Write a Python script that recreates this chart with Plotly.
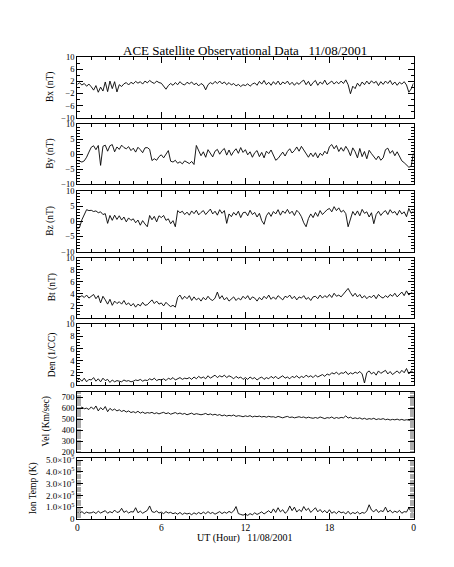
import plotly.graph_objects as go

# ---------------- data (10-minute samples, 0..24 UT) ----------------
bx = [1.0, 1.5, 0.8, 1.3, 0.4, 1.1,
      0.2, -0.9, 0.6, -1.6, 0.1, -1.2,
      1.8, -1.4, 2.1, -0.4, 1.9, -1.5,
      0.9, 0.3, 1.2, 1.6, 0.8, 1.7,
      1.2, 2.0, 1.4, 1.9, 1.1, 2.1,
      1.5, 2.3, 1.7, 1.3, 2.1, 1.6,
      1.4, 0.2, -0.6, 0.6, 1.3, 0.7,
      1.6, 0.9, 1.9, 1.1, 0.8, 1.7,
      1.2, 1.8, 0.9, 1.4, 0.5, 1.3,
      0.8, -0.8, 0.9, 1.6, 1.1, 2.0,
      1.3, 2.1, 1.2, 1.8, 0.9, 1.6,
      0.8, 1.3, 0.5, 1.0, 0.3, 0.9,
      0.6, 1.2, 0.4, 1.1, 1.5, 0.7,
      2.0, 1.1, 2.3, 0.9, 1.7, 0.7,
      1.9, 1.0, 2.1, 0.8, 1.8, 1.2,
      2.1, 0.9, 1.7, 0.7, 1.6, 1.0,
      1.9, 2.4, 0.9, 2.0, 0.5, 1.6,
      2.3, 0.7, 1.8, 1.1, 2.4, 0.9,
      1.5, 2.1, 1.1, 1.9, 1.2, 2.1,
      1.3, 2.5, 0.9, -2.1, 0.4, -0.4,
      1.4, 0.4, 1.8, 0.9, 2.1, 1.1,
      2.2, 1.4, 2.0, 0.6, 1.9, 1.0,
      2.1, 1.3, 2.3, 0.9, 1.8, 0.7,
      1.7, 1.1, 1.9, 0.8, -1.6, -0.5,
      1.4]

by = [-2.0, -2.4, -2.6, -2.2, -1.0, 0.7,
      2.3, 2.8, 1.5, 2.9, -3.7, 2.6,
      3.0, 1.0, 2.8, 3.2, 0.8, 2.4,
      1.6, 3.0, 2.2, 1.8, 2.5, 1.2,
      2.0, 0.7, 2.3, 1.5, 0.5, 2.1,
      2.2, 1.6, -2.1, -1.5, -2.0, -0.8,
      -0.2, -1.2, 0.2, 1.2, -2.3, -2.6,
      -2.0, -3.0, -2.5, -3.2, -2.2, -2.8,
      -3.1, -2.4, -3.4, 2.9, 1.2, -0.5,
      0.8, -1.0, 1.5, 0.2, -0.9, 1.0,
      1.6, 0.0, 1.2, 1.9, -0.3, 1.4,
      -0.4, 0.9, 1.8, 0.3, 2.2, 0.6,
      1.5, -0.2, 0.8, -1.0, 0.5, 1.2,
      -0.8, 0.6, -1.2, 1.0, 0.2, 1.4,
      -0.5, -2.0, -1.4, -0.3, 0.7, -0.6,
      0.9, 1.8, 0.4, 1.2, 2.4, 1.0,
      2.6, 1.4, 0.2, -1.0, 0.4, -0.8,
      0.5, -1.2, 0.3, -0.4, 1.0, 0.1,
      2.5, 3.2, 1.8, 2.9, 0.9, 2.2,
      1.0, 2.6, 1.4, -0.5, 2.1, 0.8,
      -1.2, 1.9, -0.8, 0.9, -1.5, 1.3,
      0.2, -1.0, -1.8, -0.6, -2.0, -1.2,
      1.5, 2.0, 0.3, 1.2, -0.5, 0.8,
      -1.0, -2.2, -2.8, -3.5, -4.3, -4.0,
      0.5]

bz = [-2.5, -2.0, 0.5, 2.0, 3.8, 3.5,
      3.6, 3.2, 3.4, 2.8, 3.1, 2.2,
      2.5, -0.7, 1.9, 0.3, 2.0, 0.6,
      1.8, 0.4, 1.4, -0.2, 1.1, 0.3,
      0.8, -0.5, 0.4, -1.3, 0.2, -0.9,
      -1.8, 1.9, 0.5, 1.6, -0.2, 1.8,
      1.2, 1.9, 0.3, 0.8, -0.8, 0.2,
      -1.8, 3.5, 2.8, 3.3, 2.2, 3.0,
      2.0, 3.4, 2.5, 3.6, 2.1, 2.9,
      3.5, 2.2, 3.0, 4.0, 2.4, 3.3,
      2.0, 3.8, 2.6, 3.5, -0.7, 2.4,
      1.5, 2.9, 2.0, 3.3, 1.2, 2.8,
      3.0, 1.8, 3.6, 2.2, 2.9, 1.4,
      2.6, 0.2, -1.0, 1.8, 2.9, 1.6,
      3.2, 2.4, 3.8, 2.0, 3.4, 2.6,
      3.9, 2.5, 3.3, 1.9, 3.6, 2.8,
      1.5, -0.5, -1.8, 0.9, 2.4, 1.2,
      2.9, 1.6, 3.5, 2.2, 3.0, 3.8,
      4.2, 3.1, 4.8, 3.5, 4.4, 3.0,
      3.6, 2.5, -1.8, 1.2, 3.2, 2.0,
      3.4, 1.8, 3.9, 2.6, 3.1, 1.4,
      2.8, -0.8, 2.2, 3.3, 1.9, 2.9,
      3.5, 2.2, 3.8, 2.7, 3.2, 2.0,
      3.6, 2.4, 3.1, 1.5, 4.2, 2.6,
      3.3]

bt = [3.2, 3.5, 3.7, 3.4, 3.8, 3.3,
      3.6, 3.9, 3.2, 3.7, 2.5, 3.6,
      3.0, 2.3, 3.1, 2.1, 2.8, 2.4,
      2.7, 2.3, 2.9, 2.2, 2.5, 2.0,
      2.4, 1.8, 2.3, 2.0, 2.6, 2.1,
      2.2, 2.6, 3.0, 2.4, 2.8, 2.3,
      2.5, 2.0, 2.6, 2.2, 1.9, 2.1,
      1.8, 3.4, 3.8, 3.1, 3.6, 3.2,
      3.7, 2.9, 3.5, 3.0, 3.3, 2.8,
      3.4, 3.0, 3.6, 3.1, 2.9, 3.3,
      4.3, 3.2, 3.7, 3.0, 3.4, 2.8,
      3.1, 3.5, 2.9, 3.3, 3.0, 3.6,
      3.2, 3.7, 3.0, 3.5, 3.3, 2.8,
      3.4, 3.0, 3.6, 3.2, 3.8, 3.1,
      3.5, 3.1, 3.7, 3.3, 3.0, 3.6,
      3.4, 3.8, 3.2, 3.6, 3.0, 3.5,
      3.3, 3.7, 3.1, 3.4, 2.9, 3.5,
      3.6, 3.2, 3.8, 3.3, 3.7, 3.4,
      3.9, 3.4, 4.1, 3.6, 3.8, 3.5,
      4.0, 4.6, 4.9, 4.2, 3.6, 4.1,
      3.5, 3.9, 3.3, 3.7, 3.2, 3.6,
      3.4, 3.8, 3.2, 3.9, 3.5, 3.3,
      3.7, 3.4, 3.9, 3.6, 4.1, 3.5,
      3.9, 4.3, 3.7, 4.5, 3.8, 4.2,
      4.0]

den = [0.7, 1.0, 0.6, 1.1, 0.5, 0.9,
       0.8, 1.2, 0.6, 1.0, 0.5, 1.1,
       0.7, 0.9, 0.4, 0.8, 0.5, 0.7,
       0.6, 0.5, 0.8, 0.6, 0.7, 0.5,
       0.6, 0.8, 0.7, 0.9, 0.6, 0.8,
       0.7, 1.0, 0.8, 1.1, 0.7, 0.9,
       0.8, 1.0, 0.7, 1.1, 0.9, 1.2,
       0.8, 1.0, 1.2, 0.9, 1.1, 1.0,
       1.2, 0.9, 1.3, 1.0, 1.4, 1.1,
       1.3, 1.0, 1.5, 1.1, 1.4, 1.6,
       1.2, 1.5, 1.3, 1.6, 1.2, 1.5,
       1.3, 1.0, 1.4, 1.1, 1.3, 0.9,
       1.2, 0.9, 1.3, 1.0, 1.2, 0.8,
       1.1, 1.3, 0.9, 1.2, 1.0, 1.4,
       1.1, 1.4, 1.0, 1.3, 1.5, 1.1,
       1.3, 1.0, 1.4, 1.2, 1.5, 1.1,
       1.4, 1.2, 1.6, 1.3, 1.5, 1.2,
       1.6, 1.3, 1.5, 1.7, 1.4, 1.8,
       1.6, 2.0, 1.8, 2.1, 1.7, 2.0,
       1.9, 2.2, 1.7, 2.0, 1.8, 2.1,
       1.9, 2.2, 1.8, 0.3, 2.0, 2.3,
       1.8, 2.1, 1.6, 2.3, 1.9, 2.2,
       2.4, 1.8, 2.2, 1.7, 2.0, 2.3,
       1.9, 2.4, 2.0, 2.7, 1.8, 2.3,
       2.0]

vel = [605, 598, 610, 595, 600, 588,
       612, 590, 620, 575, 605, 585,
       615, 568, 598, 580, 592, 575,
       585, 570, 580, 565, 575, 560,
       568, 558, 572, 555, 565, 552,
       560, 555, 562, 550, 558, 548,
       556, 562, 550, 558, 545, 555,
       560, 548, 556, 545, 552, 540,
       548, 555, 542, 550, 545, 540,
       545, 552, 540, 548, 538, 545,
       535, 542, 530, 538, 528, 535,
       530, 538, 525, 532, 528, 522,
       530, 524, 532, 520, 527, 523,
       528, 520, 525, 518, 526, 520,
       522, 515, 525, 518, 512, 520,
       525, 515, 520, 512, 518, 522,
       515, 520, 510, 518, 512, 508,
       515, 508, 520, 512, 505, 514,
       510, 520, 506, 515, 508, 516,
       512, 530, 510, 518, 505, 512,
       505, 512, 500, 508, 498, 505,
       500, 508, 496, 503, 498, 505,
       495, 500, 492, 498, 494, 500,
       492, 498, 490, 495, 493, 488,
       515]

temp = [55000, 48000, 62000, 45000, 58000, 50000,
        52000, 60000, 46000, 65000, 50000, 58000,
        70000, 48000, 62000, 52000, 75000, 55000,
        60000, 90000, 55000, 68000, 50000, 62000,
        58000, 95000, 52000, 66000, 48000, 60000,
        72000, 110000, 62000, 55000, 68000, 50000,
        58000, 45000, 62000, 50000, 56000, 44000,
        52000, 40000, 55000, 38000, 50000, 42000,
        48000, 36000, 52000, 40000, 55000, 42000,
        58000, 44000, 62000, 46000, 55000, 40000,
        50000, 62000, 45000, 58000, 48000, 64000,
        52000, 68000, 105000, 45000, 38000, 32000,
        40000, 30000, 45000, 35000, 52000, 38000,
        48000, 60000, 42000, 55000, 70000, 50000,
        85000, 55000, 95000, 60000, 78000, 48000,
        65000, 110000, 70000, 100000, 58000, 80000,
        62000, 105000, 72000, 90000, 55000, 75000,
        95000, 60000, 80000, 55000, 72000, 50000,
        78000, 48000, 62000, 45000, 66000, 52000,
        58000, 42000, 65000, 40000, 55000, 45000,
        60000, 42000, 55000, 48000, 68000, 120000,
        75000, 60000, 82000, 55000, 70000, 62000,
        100000, 58000, 74000, 52000, 66000, 55000,
        72000, 48000, 62000, 58000, 95000, 60000,
        60000]

hours = [i / 6 for i in range(len(bx))]

x_tickvals = [0, 6, 12, 18, 24]
x_ticktext = ["0", "6", "12", "18", "0"]

ytitles = ["Bx (nT)", "By (nT)", "Bz (nT)", "Bt (nT)", "Den (1/CC)",
           "Vel (Km/sec)", "Ion Temp (K)"]
series = [bx, by, bz, bt, den, vel, temp]
yranges = [[-10, 10], [-10, 10], [-10, 10], [0, 10], [0, 10], [200, 750], [0, 5.17e5]]
ytickvals = [[-10, -6, -2, 2, 6, 10],
             [-10, -5, 0, 5, 10],
             [-10, -5, 0, 5, 10],
             [0, 2, 4, 6, 8, 10],
             [0, 2, 4, 6, 8, 10],
             [200, 300, 400, 500, 600, 700],
             [0, 1e5, 2e5, 3e5, 4e5, 5e5]]
yticktext = [["\u221210", "\u22126", "\u22122", "2", "6", "10"],
             ["\u221210", "\u22125", "0", "5", "10"],
             ["\u221210", "\u22125", "0", "5", "10"],
             ["0", "2", "4", "6", "8", "10"],
             ["0", "2", "4", "6", "8", "10"],
             ["200", "300", "400", "500", "600", "700"],
             ["0", "1.0\u00d710<sup>5</sup>", "2.0\u00d710<sup>5</sup>",
              "3.0\u00d710<sup>5</sup>", "4.0\u00d710<sup>5</sup>",
              "5.0\u00d710<sup>5</sup>"]]
yminor = [2, 1, 1, 0.5, 0.5, 10, 1e4]
minor_color = ["#000", "#000", "#000", "#000", "#000", "#aaa", "#aaa"]
minor_len = [3, 3, 3, 3, 3, 4, 4]
ytick_size = [8.5, 8.5, 8.5, 8.5, 8.5, 8.5, 9]

# ---------------- layout geometry (pixels) ----------------
W, H = 454, 567
X0, X1 = 68, 408
panels = [(45, 106.5), (113, 174.5), (181, 243), (249, 310.5),
          (317, 378.5), (385.5, 447), (453, 515)]
ytitle_x = [41, 41, 41, 43, 43, 37, 24]

FONT = "Liberation Serif"
fig = go.Figure()
layout = dict(width=W, height=H, margin=dict(l=0, r=0, t=0, b=0),
              paper_bgcolor="white", plot_bgcolor="white", showlegend=False,
              font=dict(family=FONT, size=9, color="black"))
annotations = []

for i, (vals, (top, bot)) in enumerate(zip(series, panels)):
    n = i + 1
    xa = "x" if n == 1 else f"x{n}"
    ya = "y" if n == 1 else f"y{n}"
    fig.add_trace(go.Scatter(x=hours, y=vals, mode="lines",
                             line=dict(color="black", width=0.9),
                             xaxis=xa, yaxis=ya, hoverinfo="skip"))
    xkey = "xaxis" if n == 1 else f"xaxis{n}"
    ykey = "yaxis" if n == 1 else f"yaxis{n}"
    layout[xkey] = dict(domain=[X0 / W, X1 / W], range=[0, 24], anchor=ya,
                        tickmode="array", tickvals=x_tickvals, ticktext=x_ticktext,
                        ticks="inside", ticklen=6, tickcolor="black",
                        minor=dict(dtick=1, ticks="inside", ticklen=3, tickcolor="black"),
                        showline=True, linecolor="black", linewidth=1,
                        mirror="allticks", showgrid=False, zeroline=False,
                        showticklabels=(n == 7), tickfont=dict(size=9.5, family=FONT))
    layout[ykey] = dict(domain=[1 - bot / H, 1 - top / H], range=yranges[i],
                        anchor=xa, tickmode="array", tickvals=ytickvals[i],
                        ticktext=yticktext[i], ticks="inside", ticklen=6,
                        tickcolor="black",
                        minor=dict(dtick=yminor[i], ticks="inside", ticklen=minor_len[i],
                                   tickcolor=minor_color[i], tick0=yranges[i][0]),
                        showline=True, linecolor="black", linewidth=1,
                        mirror="allticks", showgrid=False, zeroline=False,
                        tickfont=dict(size=ytick_size[i], family=FONT))
    annotations.append(dict(text=ytitles[i], x=ytitle_x[i] / W, y=1 - (top + bot) / 2 / H,
                            xref="paper", yref="paper", showarrow=False, textangle=-90,
                            xanchor="center", yanchor="middle",
                            font=dict(size=9.5, family=FONT)))

annotations.append(dict(text="ACE Satellite Observational Data\u00a0\u00a0 11/08/2001",
                        x=(X0 + X1) / 2 / W, y=1 - 38 / H, xref="paper", yref="paper",
                        showarrow=False, xanchor="center", yanchor="middle",
                        font=dict(size=13, family=FONT)))
annotations.append(dict(text="UT (Hour)\u00a0\u00a0 11/08/2001",
                        x=(X0 + X1) / 2 / W, y=1 - 534 / H, xref="paper", yref="paper",
                        showarrow=False, xanchor="center", yanchor="middle",
                        font=dict(size=10, family=FONT)))
layout["annotations"] = annotations
fig.update_layout(**layout)
fig.write_html("out.html")
